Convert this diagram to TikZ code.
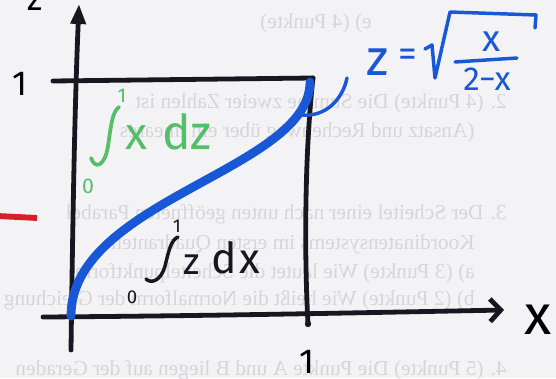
\documentclass[tikz,border=0pt]{standalone}
\usepackage{fontspec}
\setmainfont{Fira Sans}
\newfontfamily\bgfont{Liberation Serif}
\usetikzlibrary{arrows.meta}
\definecolor{paper}{RGB}{243,243,246}
\definecolor{ink}{RGB}{24,22,32}
\definecolor{mblue}{RGB}{24,88,214}
\definecolor{mgreen}{RGB}{84,190,104}
\definecolor{mred}{RGB}{214,32,38}
\definecolor{faint}{RGB}{214,214,218}
\newcommand\fsz[1]{\fontsize{#1}{#1}\selectfont}
\begin{document}
\begin{tikzpicture}[x=0.75pt,y=-0.75pt,
  bgtext/.style={text=faint,inner sep=0pt,anchor=base east,font=\bgfont\fsz{16}},
  axisline/.style={draw=ink,line width=3.6pt,line cap=round,line join=round},
  blackpen/.style={draw=ink,line width=2.6pt,line cap=round,line join=round},
  bluepen/.style={draw=mblue,line width=2.6pt,line cap=round,line join=round},
  greenpen/.style={draw=mgreen,line width=2.8pt,line cap=round,line join=round},
  curvepen/.style={draw=mblue,line width=6.6pt,line cap=round},
  lbl/.style={inner sep=0pt,anchor=base}
]
\fill[paper] (0,0) rectangle (556,378);
\useasboundingbox (0,0) rectangle (556,378);
\clip (0,0) rectangle (556,378);

% faint show-through text from the back of the sheet (mirrored)
\node[bgtext] (t1) at (372,29) {\reflectbox{e) (4 Punkte)}};
\node[bgtext] (t2) at (507,108) {\reflectbox{2. (4 Punkte) Die Summe zweier Zahlen ist}};
\node[bgtext] (t3) at (475,137) {\reflectbox{(Ansatz und Rechenweg über ein lineares}};
\node[bgtext] (t4) at (507,219) {\reflectbox{3. Der Scheitel einer nach unten geöffneten Parabel}};
\node[bgtext] (t5) at (475,249) {\reflectbox{Koordinatensystems im ersten Quadranten}};
\node[bgtext] (t6) at (475,278) {\reflectbox{a) (3 Punkte) Wie lautet die Scheitelpunktform}};
\node[bgtext] (t7) at (475,305) {\reflectbox{b) (2 Punkte) Wie heißt die Normalform der Gleichung}};
\node[bgtext] (t8) at (507,375) {\reflectbox{4. (5 Punkte) Die Punkte A und B liegen auf der Geraden}};

% red mark
\coordinate (r1) at (-2,216);
\coordinate (r2) at (37,218);
\draw[mred,line width=4.4pt] (r1) -- (r2);

% axes
\coordinate (zb) at (71,350);
\coordinate (zt) at (79,4);
\coordinate (xl) at (43,317);
\coordinate (xr) at (504,310);
\draw[axisline,-{Triangle[length=15pt,width=11pt]}] (zb) .. controls (73,200) and (75,100) .. (zt);
\draw[axisline,-{Straight Barb[length=8pt,width=17pt]}] (xl) .. controls (200,316) and (350,313) .. (xr);

% unit box
\coordinate (b1) at (53,81);
\coordinate (b2) at (313,78);
\coordinate (b3) at (308,324);
\draw[axisline] (b1) -- (b2);
\draw[axisline] (b2) .. controls (305,150) and (304,250) .. (b3);
\fill[ink] (b3) circle (2.4pt);

% axis labels
\node[lbl,font=\fsz{26}] (zlab) at (35,11) {z};
\node[lbl,font=\fsz{42}] (xlab) at (538,334) {x};
\node[lbl,font=\fsz{26}] (one1) at (20,95) {1};
\node[lbl,font=\fsz{26}] (one2) at (307,373) {1};

% blue curve z = sqrt(x/(2-x))
\coordinate (O) at (71,316);
\coordinate (C) at (310,82);
\draw[curvepen] (O) .. controls (71,200) and (310,170) .. (C);

% pointer arc and formula
\coordinate (a1) at (296,114);
\coordinate (a2) at (347,78);
\draw[bluepen] (a1) .. controls (322,120) and (342,102) .. (a2);
\node[lbl,font=\fsz{38},text=mblue] (fz) at (378,75) {z};
\node[lbl,font=\fsz{28},text=mblue] (feq) at (408,67) {=};
\coordinate (s1) at (425,49);
\coordinate (s2) at (432,45);
\coordinate (s3) at (435,78);
\coordinate (s4) at (450,12);
\coordinate (s5) at (536,15);
\coordinate (s6) at (535,28);
\draw[bluepen] (s1) -- (s2) -- (s3) -- (s4) -- (s5) -- (s6);
\node[lbl,font=\fsz{28},text=mblue] (fnum) at (492,51) {x};
\coordinate (f1) at (455,62);
\coordinate (f2) at (517,58);
\draw[bluepen] (f1) -- (f2);
\node[lbl,font=\fsz{25},text=mblue] (fden) at (487,90) {2−x};

% green integral
\draw[greenpen] (91,158) .. controls (95,170) and (105,166) .. (108,146)
  .. controls (111,126) and (112,112) .. (119,107);
\node[lbl,font=\fsz{15},text=mgreen] (gup) at (122,102) {1};
\node[lbl,font=\fsz{16},text=mgreen] (glo) at (88,193) {0};
\node[lbl,font=\fsz{34},text=mgreen] (gx) at (136,149) {x};
\node[lbl,font=\fsz{36},text=mgreen] (gdz) at (187,149) {dz};

% black integral
\draw[blackpen] (146,279) .. controls (151,284) and (161,281) .. (165,266)
  .. controls (169,250) and (171,240) .. (178,237);
\node[lbl,font=\fsz{14},text=ink] (bup) at (177,232) {1};
\node[lbl,font=\fsz{14},text=ink] (blo) at (132,303) {0};
\node[lbl,font=\fsz{28},text=ink] (bz) at (192,274) {z};
\node[lbl,font=\fsz{32},text=ink] (bdx) at (236,273) {d\hspace{2pt}x};
\end{tikzpicture}
\end{document}
